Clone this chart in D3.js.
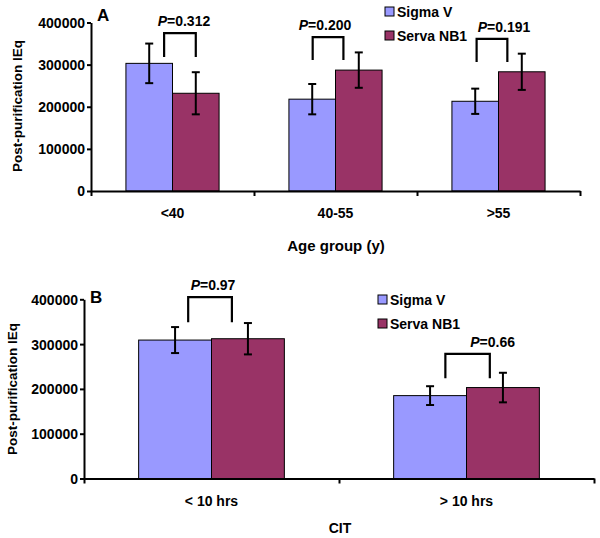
<!DOCTYPE html>
<html>
<head>
<meta charset="utf-8">
<script src="https://cdn.jsdelivr.net/npm/d3@7"></script>
<style>
  html, body { margin: 0; padding: 0; background: #fff; }
  svg { display: block; }
  text { font-family: "Liberation Sans", Arial, sans-serif; fill: #000; }
</style>
</head>
<body>
<svg id="chart" width="600" height="538"></svg>
<script>
// ---------- DATA ----------
const seriesNames = ["Sigma V", "Serva NB1"];
const seriesColors = ["#9999FF", "#993366"];

// Panel A
const ageGroups = ["<40", "40-55", ">55"];
const ageSigma = [303000, 218000, 213000];
const ageServa = [232000, 287000, 283000];
const ageSigmaErr = [47000, 36000, 30000];
const ageServaErr = [50000, 42000, 43000];
const agePValues = ["0.312", "0.200", "0.191"];

// Panel B
const citGroups = ["< 10 hrs", "> 10 hrs"];
const citSigma = [309000, 185000];
const citServa = [312000, 203000];
const citSigmaErr = [29000, 21000];
const citServaErr = [35000, 33000];
const citPValues = ["0.97", "0.66"];

const yTicks = [0, 100000, 200000, 300000, 400000];

// ---------- LAYOUT (annotations) ----------
// bracket: [left offset, right offset] in bar widths from group center; top/leg in data units; text dx in px
const ageBrackets = [
  {l: -0.18, r: 0.50, top: 375000, leg: 318000, dx: 4},
  {l: -0.49, r: 0.17, top: 365500, leg: 311000, dx: -3},
  {l: -0.47, r: 0.19, top: 361000, leg: 306000, dx: 12}
];
const citBrackets = [
  {l: -0.32, r: 0.28, top: 405000, leg: 349000, dx: 3},
  {l: -0.29, r: 0.32, top: 278000, leg: 224000, dx: 25}
];

const svg = d3.select("#chart");

function panel(cfg) {
  const g = svg.append("g");
  const x0 = d3.scaleBand().domain(cfg.groups).range([cfg.x0, cfg.x1]).padding(0);
  const x1 = d3.scaleBand().domain(seriesNames).range([0, x0.bandwidth()])
    .paddingInner(0).paddingOuter(0.75);
  const y = d3.scaleLinear().domain([0, 400000]).range([cfg.yBottom, cfg.yTop]);
  const bw = x1.bandwidth();

  const rows = cfg.groups.map((gName, i) => ({
    group: gName,
    vals: [
      {s: seriesNames[0], v: cfg.sigma[i], e: cfg.sigmaErr[i], c: seriesColors[0]},
      {s: seriesNames[1], v: cfg.serva[i], e: cfg.servaErr[i], c: seriesColors[1]}
    ]
  }));

  // bars
  const grp = g.selectAll("g.grp").data(rows).join("g")
    .attr("transform", d => `translate(${x0(d.group)},0)`);
  grp.selectAll("rect").data(d => d.vals).join("rect")
    .attr("x", d => x1(d.s))
    .attr("y", d => y(d.v))
    .attr("width", bw)
    .attr("height", d => y(0) - y(d.v))
    .attr("fill", d => d.c)
    .attr("stroke", "#000")
    .attr("stroke-width", 1);

  // error bars
  const eb = grp.selectAll("g.eb").data(d => d.vals).join("g")
    .attr("transform", d => `translate(${x1(d.s) + bw / 2},0)`)
    .attr("stroke", "#000").attr("stroke-width", 2);
  eb.append("line").attr("x1", 0).attr("x2", 0)
    .attr("y1", d => y(d.v + d.e)).attr("y2", d => y(d.v - d.e));
  eb.append("line").attr("x1", -4).attr("x2", 4)
    .attr("y1", d => y(d.v + d.e)).attr("y2", d => y(d.v + d.e));
  eb.append("line").attr("x1", -4).attr("x2", 4)
    .attr("y1", d => y(d.v - d.e)).attr("y2", d => y(d.v - d.e));

  // y axis
  const ya = g.append("g").attr("transform", `translate(${cfg.x0},0)`)
    .call(d3.axisLeft(y).tickValues(yTicks).tickSize(4).tickSizeOuter(0).tickFormat(d3.format("d")));
  ya.select(".domain").attr("stroke", "#000").attr("stroke-width", 2);
  ya.selectAll(".tick line").attr("stroke", "#000").attr("stroke-width", 2);
  ya.selectAll(".tick text").attr("x", -6).attr("dy", "0.35em")
    .style("font-size", "14px").style("font-weight", "bold")
    .style("font-family", "'Liberation Sans', Arial, sans-serif");

  // x axis (ticks at group boundaries)
  const xb = d3.scaleLinear().domain([0, cfg.groups.length]).range([cfg.x0, cfg.x1]);
  const xa = g.append("g").attr("transform", `translate(0,${cfg.yBottom})`)
    .call(d3.axisBottom(xb).tickValues(d3.range(cfg.groups.length + 1)).tickSize(5).tickSizeOuter(0).tickFormat(""));
  xa.select(".domain").attr("stroke", "#000").attr("stroke-width", 2);
  xa.selectAll(".tick line").attr("stroke", "#000").attr("stroke-width", 2);

  // category labels
  g.selectAll("text.cat").data(cfg.groups).join("text")
    .attr("class", "cat")
    .attr("x", d => x0(d) + x0.bandwidth() / 2)
    .attr("y", cfg.catY)
    .attr("text-anchor", "middle")
    .style("font-size", "14px").style("font-weight", "bold")
    .text(d => d);

  // axis titles
  g.append("text")
    .attr("x", cfg.titleX).attr("y", cfg.titleY)
    .attr("text-anchor", "middle")
    .style("font-size", cfg.titleSize).style("font-weight", "bold")
    .text(cfg.xTitle);
  g.append("text")
    .attr("transform", `translate(${cfg.yTitleX},${cfg.yTitleY}) rotate(-90)`)
    .attr("text-anchor", "middle")
    .style("font-size", "13.5px").style("font-weight", "bold")
    .text("Post-purification IEq");

  // panel letter
  g.append("text").attr("x", cfg.x0 + 6).attr("y", cfg.letterY)
    .style("font-size", "17px").style("font-weight", "bold")
    .text(cfg.letter);

  // brackets
  cfg.brackets.forEach((b, i) => {
    const cx = x0(cfg.groups[i]) + x0.bandwidth() / 2;
    const xl = cx + b.l * bw, xr = cx + b.r * bw;
    g.append("path")
      .attr("d", `M${xl},${y(b.leg)}V${y(b.top)}H${xr}V${y(b.leg)}`)
      .attr("fill", "none").attr("stroke", "#000").attr("stroke-width", 2.2);
    const t = g.append("text")
      .attr("x", (xl + xr) / 2 + b.dx).attr("y", y(b.top) - 7)
      .attr("text-anchor", "middle")
      .style("font-size", "14px").style("font-weight", "bold");
    t.append("tspan").style("font-style", "italic").text("P");
    t.append("tspan").text("=" + cfg.pValues[i]);
  });

  // legend
  const lg = g.append("g");
  seriesNames.forEach((s, i) => {
    const yy = cfg.legendY + i * 24;
    lg.append("rect").attr("x", cfg.legendX).attr("y", yy - 10)
      .attr("width", 9).attr("height", 9)
      .attr("fill", seriesColors[i]).attr("stroke", "#000").attr("stroke-width", 1);
    lg.append("text").attr("x", cfg.legendX + 12).attr("y", yy)
      .style("font-size", "14px").style("font-weight", "bold")
      .text(s);
  });
}

panel({
  groups: ageGroups, sigma: ageSigma, serva: ageServa,
  sigmaErr: ageSigmaErr, servaErr: ageServaErr, pValues: agePValues,
  brackets: ageBrackets,
  x0: 91, x1: 580, yTop: 22.5, yBottom: 191,
  catY: 218, xTitle: "Age group (y)", titleX: 336, titleY: 251, titleSize: "15px",
  yTitleX: 22, yTitleY: 106, letter: "A", letterY: 21,
  legendX: 385, legendY: 17
});

panel({
  groups: citGroups, sigma: citSigma, serva: citServa,
  sigmaErr: citSigmaErr, servaErr: citServaErr, pValues: citPValues,
  brackets: citBrackets,
  x0: 84, x1: 594, yTop: 299.3, yBottom: 478.5,
  catY: 506, xTitle: "CIT", titleX: 340, titleY: 533, titleSize: "14px",
  yTitleX: 17, yTitleY: 389, letter: "B", letterY: 303,
  legendX: 378, legendY: 305
});
</script>
</body>
</html>
